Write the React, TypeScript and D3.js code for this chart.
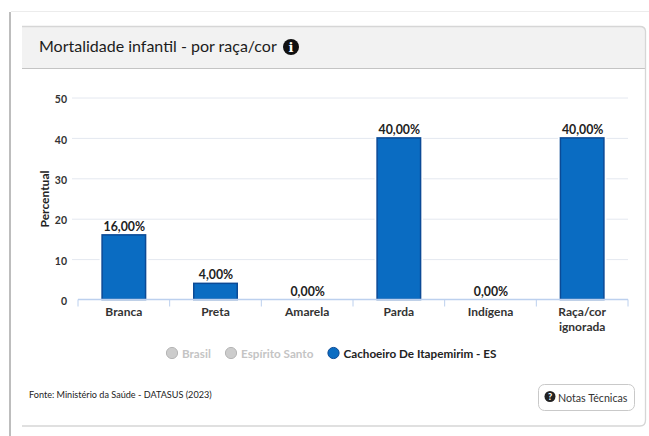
import React, { useEffect, useRef } from "react";
import * as d3 from "d3";

const categories = ["Branca", "Preta", "Amarela", "Parda", "Indígena", "Raça/cor ignorada"];
const values = [16, 4, 0, 40, 0, 40];
const yTicks = [0, 10, 20, 30, 40, 50];
const legendNames = ["Brasil", "Espírito Santo", "Cachoeiro De Itapemirim - ES"];
const legendOn = [false, false, true];
const legendX = [172, 231, 333.5];

const font = "Lato, 'Noto Sans', sans-serif";
const width = 649;
const height = 436;
const margin = { top: 97.5, right: 21, bottom: 136.5, left: 78 };

function pct(v: number) {
  return v.toFixed(2).replace(".", ",") + "%";
}

export default function App() {
  const ref = useRef<SVGSVGElement>(null);

  useEffect(() => {
    const svg = d3.select(ref.current);
    svg.selectAll("*").remove();
    svg.style("font-family", font);

    // card
    svg.append("rect").attr("width", width).attr("height", height).attr("fill", "#fff");
    svg.append("line").attr("x1", 11).attr("x2", 649).attr("y1", 11.5).attr("y2", 11.5).attr("stroke", "#ececec");
    svg.append("rect").attr("x", 9).attr("y", 12).attr("width", 2).attr("height", 424).attr("fill", "#bdbdbd");
    svg
      .append("path")
      .attr("d", "M22,68 V26 H640 Q645,26 645,31 V68 Z")
      .attr("fill", "#f2f2f2");
    svg.append("line").attr("x1", 22).attr("x2", 645).attr("y1", 68.5).attr("y2", 68.5).attr("stroke", "#c4c4c4");
    svg
      .append("path")
      .attr("d", "M22,26.5 H640 Q645,26.5 645.5,31 V420 Q645.5,426 640,426 H22")
      .attr("fill", "none")
      .attr("stroke", "#d6d6d6")
      .attr("stroke-width", 1.3);

    // title
    svg
      .append("text")
      .attr("x", 39)
      .attr("y", 52)
      .attr("font-size", 16)
      .attr("fill", "#1c1c1c")
      .text("Mortalidade infantil - por raça/cor");
    const info = svg.append("g").attr("transform", "translate(291,47)");
    info.append("circle").attr("r", 8).attr("fill", "#111");
    info
      .append("text")
      .attr("y", 5)
      .attr("text-anchor", "middle")
      .attr("font-size", 13)
      .attr("font-weight", 900)
      .attr("font-family", "'DejaVu Serif', serif")
      .attr("fill", "#fff")
      .text("i");

    const x = d3
      .scaleBand()
      .domain(categories)
      .range([margin.left, width - margin.right]);
    const y = d3
      .scaleLinear()
      .domain([0, 50])
      .range([height - margin.bottom, margin.top]);

    // grid + y axis
    const yAxis = svg
      .append("g")
      .attr("transform", `translate(${margin.left},0)`)
      .call(
        d3
          .axisLeft(y)
          .tickValues(yTicks)
          .tickSize(0)
          .tickPadding(11)
      );
    yAxis.select(".domain").remove();
    yAxis
      .selectAll("text")
      .attr("font-size", 10.5)
      .attr("font-weight", 700)
      .attr("font-family", font)
      .attr("fill", "#333")
      .attr("dy", "0.5em");
    yAxis
      .selectAll(".tick")
      .filter((d) => d !== 0)
      .append("line")
      .attr("x1", -6)
      .attr("x2", width - margin.right - margin.left)
      .attr("stroke", "#e4e8f0");

    svg
      .append("text")
      .attr("transform", `translate(49,199) rotate(-90)`)
      .attr("text-anchor", "middle")
      .attr("font-size", 12)
      .attr("font-weight", 700)
      .attr("fill", "#222")
      .text("Percentual");

    // bars
    const barWidth = 43.5;
    const bars = svg.append("g");
    categories.forEach((c, i) => {
      const cx = x(c)! + x.bandwidth() / 2;
      if (values[i] > 0) {
        // white gap that cuts the grid lines beside each bar
        bars
          .append("rect")
          .attr("x", cx - barWidth / 2 - 2.5)
          .attr("y", y(values[i]))
          .attr("width", barWidth + 5)
          .attr("height", y(0) - y(values[i]))
          .attr("fill", "#fff");
        bars
          .append("rect")
          .attr("x", cx - barWidth / 2)
          .attr("y", y(values[i]))
          .attr("width", barWidth)
          .attr("height", y(0) - y(values[i]))
          .attr("fill", "#0a6cc2")
          .attr("stroke", "#0b4a96")
          .attr("stroke-width", 1.5);
      }
      bars
        .append("text")
        .attr("x", cx + 0.5)
        .attr("y", y(values[i]) - 4)
        .attr("text-anchor", "middle")
        .attr("font-size", 12.3)
        .attr("font-weight", 700)
        .attr("fill", "#222")
        .text(pct(values[i]));
    });

    // x axis
    const tickPositions = categories.map((c) => x(c)!).concat(width - margin.right);
    const xAxis = svg.append("g");
    xAxis
      .append("line")
      .attr("x1", margin.left)
      .attr("x2", width - margin.right)
      .attr("y1", y(0))
      .attr("y2", y(0))
      .attr("stroke", "#bcd0ee")
      .attr("stroke-width", 1.5);
    tickPositions.forEach((p) => {
      xAxis
        .append("line")
        .attr("x1", p)
        .attr("x2", p)
        .attr("y1", y(0))
        .attr("y2", y(0) + 7)
        .attr("stroke", "#bcd0ee");
    });
    categories.forEach((c) => {
      const words = c === "Raça/cor ignorada" ? ["Raça/cor", "ignorada"] : [c];
      words.forEach((w, j) => {
        xAxis
          .append("text")
          .attr("x", x(c)! + x.bandwidth() / 2)
          .attr("y", 316 + j * 14.5)
          .attr("text-anchor", "middle")
          .attr("font-size", 12)
          .attr("font-weight", 700)
          .attr("fill", "#333")
          .text(w);
      });
    });

    // legend
    legendNames.forEach((name, i) => {
      const on = legendOn[i];
      svg
        .append("circle")
        .attr("cx", legendX[i])
        .attr("cy", 353)
        .attr("r", 5.6)
        .attr("fill", on ? "#0a6cc2" : "#cccccc")
        .attr("stroke", on ? "#0b4a96" : "#b5b5b5");
      svg
        .append("text")
        .attr("x", legendX[i] + 10)
        .attr("y", 357.5)
        .attr("font-size", 11.7)
        .attr("font-weight", 700)
        .attr("fill", on ? "#222" : "#c4c4c4")
        .text(name);
    });

    // source
    svg
      .append("text")
      .attr("x", 29)
      .attr("y", 398)
      .attr("font-size", 9.1)
      .attr("fill", "#222")
      .text("Fonte: Ministério da Saúde - DATASUS (2023)");

    // button
    svg
      .append("rect")
      .attr("x", 538.5)
      .attr("y", 384.5)
      .attr("width", 96)
      .attr("height", 26)
      .attr("rx", 6)
      .attr("fill", "#fff")
      .attr("stroke", "#c9c9c9");
    const help = svg.append("g").attr("transform", "translate(550,396.5)");
    help.append("circle").attr("r", 5.5).attr("fill", "#222");
    help
      .append("text")
      .attr("y", 3.5)
      .attr("text-anchor", "middle")
      .attr("font-size", 9)
      .attr("font-weight", 900)
      .attr("fill", "#fff")
      .text("?");
    svg
      .append("text")
      .attr("x", 558)
      .attr("y", 401.5)
      .attr("font-size", 10.7)
      .attr("fill", "#333")
      .text("Notas Técnicas");
  }, []);

  return (
    <svg
      ref={ref}
      width={width}
      height={height}
      style={{ position: "absolute", left: 0, top: 0 }}
    />
  );
}
